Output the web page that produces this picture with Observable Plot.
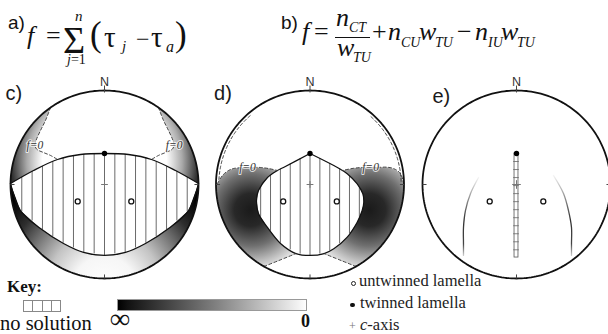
<!DOCTYPE html>
<html><head><meta charset="utf-8">
<script src="https://cdn.jsdelivr.net/npm/d3@7"></script>
<script src="https://cdn.jsdelivr.net/npm/@observablehq/plot@0.6"></script>
<style>
html,body{margin:0;padding:0;background:#fff;}
#fig{position:relative;width:608px;height:334px;overflow:hidden;background:#fff;}
#chart{position:absolute;left:0;top:68px;}
.t{position:absolute;white-space:nowrap;color:#111;}
.serif{font-family:"Liberation Serif","Times New Roman",serif;}
.sans{font-family:"Liberation Sans",Arial,sans-serif;}
.i{font-style:italic;}
.b{font-weight:bold;}
.lim{position:absolute;white-space:nowrap;line-height:0.8;}
</style></head><body><div id="fig"><div id="chart"></div></div>
<script>
// ---------------- data (net coordinates: unit circle, +v = north) ----------------
const panels = ["c", "d", "e"];
const compass = [{dir: "N", angle: 90}, {dir: "E", angle: 0}, {dir: "S", angle: 270}, {dir: "W", angle: 180}];
const cAxis = [[0, 0]];
const twinnedLamella = [[0, 0.33]];
const untwinnedLamellae = [[-0.285, -0.18], [0.285, -0.18]];

// c) no-solution lens and f=0 contours
const cLensUpper = [[-1, 0.01], [-0.755, 0.149], [-0.5, 0.266], [-0.255, 0.319], [0, 0.33], [0.255, 0.319], [0.5, 0.266], [0.755, 0.149], [1, 0.01]];
const cLensLower = [[-1, 0.01], [-0.894, -0.277], [-0.681, -0.468], [-0.436, -0.628], [-0.223, -0.723], [0, -0.755], [0.223, -0.723], [0.436, -0.628], [0.681, -0.468], [0.894, -0.277], [1, 0.01]];
const cZeroLeft = [[-0.574, 0.819], [-0.628, 0.681], [-0.681, 0.574], [-0.728, 0.47], [-0.74, 0.42], [-0.72, 0.375], [-0.649, 0.34], [-0.574, 0.309], [-0.5, 0.266]];
const cZeroRight = [[0.574, 0.819], [0.628, 0.681], [0.681, 0.574], [0.728, 0.47], [0.74, 0.42], [0.72, 0.375], [0.649, 0.34], [0.574, 0.309], [0.5, 0.266]];

// d) no-solution region and f=0 contours
const dRegion = [
  [0, 0.33], [0.253, 0.202], [0.345, 0.149], [0.396, 0.114], [0.502, 0.007], [0.562, -0.099], [0.572, -0.188],
  [0.555, -0.277], [0.502, -0.401], [0.396, -0.56], [0.253, -0.684], [0.15, -0.735], [0, -0.755],
  [-0.15, -0.735], [-0.314, -0.627], [-0.452, -0.457], [-0.548, -0.309], [-0.569, -0.17], [-0.548, -0.064],
  [-0.452, 0.074], [-0.346, 0.149], [-0.282, 0.181], [0, 0.33]
];
const dZeroLeft = [[-0.984, 0.011], [-0.931, 0.096], [-0.867, 0.149], [-0.814, 0.17], [-0.74, 0.178], [-0.665, 0.181], [-0.59, 0.182], [-0.527, 0.181], [-0.441, 0.17], [-0.346, 0.149]];
const dZeroRight = [[0.998, 0.007], [0.963, 0.114], [0.9, 0.165], [0.821, 0.184], [0.74, 0.183], [0.644, 0.181], [0.55, 0.181], [0.46, 0.172], [0.345, 0.149]];
const dBottomLeft = [[-0.49, -0.872], [-0.332, -0.809], [-0.15, -0.735]];
const dBottomRight = [[0.49, -0.872], [0.332, -0.809], [0.15, -0.735]];
const dRimArcs = [[131, 178], [2, 49]];
const dRimRadius = 0.97;

// e) degenerate no-solution strip and f=0 traces
const eStrip = [[0, 0.33], [0, -0.777]];
const eArcLeft = [[-0.404, 0.074], [-0.489, -0.096], [-0.543, -0.277], [-0.564, -0.457], [-0.564, -0.628], [-0.564, -0.755]];
const eArcRight = [[0.394, 0.096], [0.5, -0.096], [0.553, -0.277], [0.585, -0.457], [0.585, -0.628], [0.585, -0.755]];

// ---------------- layout ----------------
const W = 608, H = 216, unitPx = 94;
const centerPx = {c: 104, d: 309.5, e: 516};
const centerYPx = 116;
const off = Object.fromEntries(panels.map(p => [p, (centerPx[p] - centerPx.c) / unitPx]));
const xDomain = [(0 - centerPx.c) / unitPx, (W - centerPx.c) / unitPx];
const yDomain = [(centerYPx - H) / unitPx, centerYPx / unitPx];
const panelLabel = {c: [-1.053, 0.904], d: [-1.021, 0.904], e: [-0.894, 0.872]};

// ---------------- geometry helpers ----------------
const rad = Math.PI / 180;
const ang = p => Math.atan2(p[1], p[0]) / rad;
function arc(a0, a1, r = 1) {
  const n = Math.max(2, Math.ceil(Math.abs(a1 - a0) / 1.5));
  return d3.range(n + 1).map(i => { const a = (a0 + (a1 - a0) * i / n) * rad; return [r * Math.cos(a), r * Math.sin(a)]; });
}
const near = (a, b) => Math.abs(a[0] - b[0]) < 1e-9 && Math.abs(a[1] - b[1]) < 1e-9;
function pathBetween(loop, a, b) {
  const i = loop.findIndex(p => near(p, a)), j = loop.findIndex(p => near(p, b));
  return i <= j ? loop.slice(i, j + 1) : loop.slice(j, i + 1).reverse();
}
function span(poly, u) {
  const vs = [];
  for (let i = 0; i < poly.length - 1; i++) {
    const [x0, y0] = poly[i], [x1, y1] = poly[i + 1];
    if (x0 === x1) continue;
    if ((u - x0) * (u - x1) <= 0) { const t = (u - x0) / (x1 - x0); vs.push(y0 + t * (y1 - y0)); }
  }
  return vs.length >= 2 ? [d3.min(vs), d3.max(vs)] : null;
}
function hatch(poly, step, panel) {
  const [lo, hi] = d3.extent(poly, p => p[0]);
  const out = [];
  for (let k = Math.ceil(lo / step); k * step <= hi; k++) {
    const u = k * step, s = span(poly, u);
    if (s && s[1] - s[0] > 0.05) out.push({x: off[panel] + u, v1: s[0], v2: s[1]});
  }
  return out;
}
const at = (panel) => ({x: d => off[panel] + d[0], y: d => d[1]});

// ---------------- derived shapes ----------------
const ring = arc(0, 360);
const cLens = [...cLensUpper, ...cLensLower.slice().reverse()];
const cCornerL = [...arc(ang(cZeroLeft[0]), ang(cLensUpper[0])), ...cLensUpper.slice(0, 3), ...cZeroLeft.slice().reverse()];
const cCornerR = [...arc(ang(cZeroRight[0]), ang(cLensUpper.at(-1))), ...cLensUpper.slice(-3).reverse(), ...cZeroRight.slice().reverse()];
const cBand = [...arc(ang(cLensLower[0]), 360 + ang(cLensLower.at(-1))), ...cLensLower.slice().reverse()];
const dCrescL = [...arc(ang(dZeroLeft[0]), 360 + ang(dBottomLeft[0])), ...dBottomLeft, ...pathBetween(dRegion, dBottomLeft.at(-1), dZeroLeft.at(-1)), ...dZeroLeft.slice().reverse()];
const dCrescR = [...arc(ang(dZeroRight[0]), ang(dBottomRight[0])), ...dBottomRight, ...pathBetween(dRegion, dBottomRight.at(-1), dZeroRight.at(-1)), ...dZeroRight.slice().reverse()];
const hatchC = hatch(cLens, 0.11, "c");
const hatchD = hatch(dRegion, 0.105, "d");
const eTickStep = 0.0854;
const eTicks = d3.range(1, 40).map(k => eStrip[0][1] - k * eTickStep).filter(v => v > eStrip[1][1] + eTickStep / 2);

const perPanel = (pts) => panels.flatMap(p => pts.map(pt => ({p, u: off[p] + pt[0], v: pt[1]})));
const ticks = panels.flatMap(p => compass.map(c => {
  const [r0, r1] = c.dir === "N" ? [0.979, 1.053] : [0.957, 1.0];
  const a = c.angle * rad;
  return {x1: off[p] + r0 * Math.cos(a), y1: r0 * Math.sin(a), x2: off[p] + r1 * Math.cos(a), y2: r1 * Math.sin(a)};
}));
const plusArm = {c: 0.036, d: 0.036, e: 0.046};
const plusLinks = panels.flatMap(p => cAxis.flatMap(([u, v]) => [
  {x1: off[p] + u - plusArm[p], y1: v, x2: off[p] + u + plusArm[p], y2: v},
  {x1: off[p] + u, y1: v - plusArm[p], x2: off[p] + u, y2: v + plusArm[p]}
]));
const zeroLabels = [
  {p: "c", pt: cZeroLeft[4]}, {p: "c", pt: cZeroRight[4]},
  {p: "d", pt: dZeroLeft[5]}, {p: "d", pt: dZeroRight[5]}
];

// gradient definitions (computed in screen space through the plot's scales)
function defsMark(index, scales) {
  const sx = scales && scales.x ? scales.x : (u => (u - xDomain[0]) / (xDomain[1] - xDomain[0]) * W);
  const sy = scales && scales.y ? scales.y : (v => H - (v - yDomain[0]) / (yDomain[1] - yDomain[0]) * H);
  const k = sx(1) - sx(0);
  const defs = d3.create("svg:defs");
  function radial(id, cu, cv, r, stops) {
    const g = defs.append("radialGradient").attr("id", id).attr("gradientUnits", "userSpaceOnUse")
      .attr("cx", sx(cu)).attr("cy", sy(cv)).attr("r", r * k);
    for (const [o, c] of stops) g.append("stop").attr("offset", o).attr("stop-color", c);
  }
  radial("gCorner", off.c, 0.25, 1.1, [[0, "#fff"], [0.6, "#fff"], [0.75, "#aaa"], [0.9, "#333"], [1, "#000"]]);
  radial("gBand", off.c, -1.1, 1.35, [[0, "#fff"], [0.25, "#f6f6f6"], [0.45, "#c4c4c4"], [0.65, "#707070"], [0.8, "#2e2e2e"], [1, "#000"]]);
  const dStops = [[0, "#1a1a1a"], [0.25, "#282828"], [0.55, "#707070"], [0.8, "#c2c2c2"], [1, "#fff"]];
  radial("gDL", off.d - 0.63, -0.27, 0.7, dStops);
  radial("gDR", off.d + 0.63, -0.27, 0.7, dStops);
  const lg = defs.append("linearGradient").attr("id", "gArc").attr("x1", 0).attr("y1", 0).attr("x2", 0).attr("y2", 1);
  for (const [o, c] of [[0, "#f4f4f4"], [0.25, "#999"], [0.55, "#333"], [0.85, "#444"], [1, "#ccc"]]) lg.append("stop").attr("offset", o).attr("stop-color", c);
  return defs.node();
}

const dashStyle = {stroke: "#333", strokeWidth: 0.9, strokeDasharray: "3,2.4", curve: "catmull-rom"};

const chart = Plot.plot({
  width: W, height: H, margin: 0,
  x: {domain: xDomain, axis: null},
  y: {domain: yDomain, axis: null},
  style: {background: "transparent", fontFamily: "Liberation Sans, Arial, sans-serif", overflow: "visible"},
  marks: [
    defsMark,
    // graded f regions
    Plot.line(cCornerL, {...at("c"), fill: "url(#gCorner)", stroke: "none"}),
    Plot.line(cCornerR, {...at("c"), fill: "url(#gCorner)", stroke: "none"}),
    Plot.line(cBand, {...at("c"), fill: "url(#gBand)", stroke: "none"}),
    Plot.line(dCrescL, {...at("d"), fill: "url(#gDL)", stroke: "none"}),
    Plot.line(dCrescR, {...at("d"), fill: "url(#gDR)", stroke: "none"}),
    // no-solution hatching
    Plot.ruleX(hatchC, {x: "x", y1: "v1", y2: "v2", stroke: "#5a5a5a", strokeWidth: 0.9}),
    Plot.ruleX(hatchD, {x: "x", y1: "v1", y2: "v2", stroke: "#5a5a5a", strokeWidth: 0.9}),
    Plot.line(cLensUpper, {...at("c"), stroke: "#111", strokeWidth: 1.3, curve: "catmull-rom"}),
    Plot.line(cLensLower, {...at("c"), stroke: "#111", strokeWidth: 1.3, curve: "catmull-rom"}),
    Plot.line(dRegion, {...at("d"), stroke: "#111", strokeWidth: 1.2, curve: "catmull-rom"}),
    // f = 0 contours
    Plot.line(cZeroLeft, {...at("c"), ...dashStyle}),
    Plot.line(cZeroRight, {...at("c"), ...dashStyle}),
    Plot.line(dZeroLeft, {...at("d"), ...dashStyle}),
    Plot.line(dZeroRight, {...at("d"), ...dashStyle}),
    Plot.line(dBottomLeft, {...at("d"), ...dashStyle}),
    Plot.line(dBottomRight, {...at("d"), ...dashStyle}),
    ...dRimArcs.map(([a0, a1]) => Plot.line(arc(a0, a1, dRimRadius), {...at("d"), ...dashStyle})),
    // e) strip and traces
    Plot.rect(eStrip.slice(0, 1), {x1: off.e - 0.021, x2: off.e + 0.021, y1: eStrip[1][1], y2: eStrip[0][1], fill: "#fff", stroke: "#555", strokeWidth: 0.8}),
    Plot.ruleY(eTicks, {y: d => d, x1: off.e - 0.03, x2: off.e + 0.03, stroke: "#666", strokeWidth: 0.8}),
    Plot.line(eArcLeft, {...at("e"), stroke: "url(#gArc)", strokeWidth: 1.3, curve: "catmull-rom"}),
    Plot.line(eArcRight, {...at("e"), stroke: "url(#gArc)", strokeWidth: 1.3, curve: "catmull-rom"}),
    // primitive circles and compass ticks
    ...panels.map(p => Plot.line(ring, {...at(p), stroke: "#111", strokeWidth: 1.8})),
    Plot.link(ticks, {x1: "x1", y1: "y1", x2: "x2", y2: "y2", stroke: "#444", strokeWidth: 1}),
    // lamellae and c-axis
    Plot.link(plusLinks, {x1: "x1", y1: "y1", x2: "x2", y2: "y2", stroke: "#777", strokeWidth: 1}),
    Plot.dot(perPanel(untwinnedLamellae), {x: "u", y: "v", r: 2.5, fill: "#fff", stroke: "#111", strokeWidth: 1.3}),
    Plot.dot(perPanel(twinnedLamella), {x: "u", y: "v", r: 2.7, fill: "#000", stroke: "none"}),
    // labels
    Plot.text(zeroLabels, {x: d => off[d.p] + d.pt[0], y: d => d.pt[1], text: () => "f=0", fontFamily: "Liberation Serif, serif", fontStyle: "italic", fontSize: 11.5, fill: "#333", stroke: "#fff", strokeWidth: 2, strokeOpacity: 0.75, paintOrder: "stroke"}),
    Plot.text(panels, {x: p => off[p], y: 1.048, text: () => "N", lineAnchor: "bottom", fontSize: 12.5, fill: "#333"}),
    Plot.text(panels, {x: p => off[p] + panelLabel[p][0], y: p => panelLabel[p][1], text: p => p + ")", textAnchor: "start", lineAnchor: "bottom", fontSize: 20, fill: "#1a1a1a"})
  ]
});
document.getElementById("chart").appendChild(chart);

// ---------------- formulas and key (HTML text) ----------------
const fig = document.getElementById("fig");
// place text so that its baseline lands at `baseline`; lh = line-height in em
function put(html, x, baseline, size, cls, extra, lh = 1) {
  const el = document.createElement("div");
  el.className = "t " + cls;
  el.innerHTML = html;
  const mid = cls.includes("sans") ? 0.3465 : 0.3375;
  el.style.left = x + "px";
  el.style.lineHeight = lh;
  el.style.top = (baseline - (lh / 2 + mid) * size) + "px";
  el.style.fontSize = size + "px";
  if (extra) Object.assign(el.style, extra);
  fig.appendChild(el);
  return el;
}
function box(x, y, w, h, style) {
  const el = document.createElement("div");
  Object.assign(el.style, {position: "absolute", left: x + "px", top: y + "px", width: w + "px", height: h + "px", boxSizing: "border-box"}, style);
  fig.appendChild(el);
  return el;
}
// a)
put("a)", 8, 29, 19, "sans");
put("f", 27, 45, 26, "serif i");
put("=", 46, 45, 26, "serif");
// summation sign with its limits as one typeset unit
{
  const sigmaX = 63, sigmaBase = 53, sigmaSize = 38, lh = 0.7;
  const top = sigmaBase - (lh / 2 + 0.3375) * sigmaSize;
  const el = put("Σ", sigmaX, sigmaBase, sigmaSize, "serif", null, lh);
  const lim = (html, x, baseline, size) => {
    const s = document.createElement("span");
    s.className = "lim";
    s.innerHTML = html;
    s.style.fontSize = size + "px";
    s.style.left = (x - sigmaX) + "px";
    s.style.top = (baseline - (0.4 + 0.3375) * size - top) + "px";
    el.appendChild(s);
  };
  lim("<i>n</i>", 75, 21, 15);
  lim("<i>j</i>=1", 67, 64, 14);
}
put("(", 90, 47, 35, "serif", null, 0.9);
put("τ", 104, 47, 29, "serif");
put("j", 122, 51, 15, "serif i", null, 0.8);
put("−", 136, 47, 24, "serif");
put("τ", 151, 47, 29, "serif");
put("a", 166, 53, 16, "serif i", null, 0.8);
put(")", 175, 47, 35, "serif", null, 0.9);
// b)
put("b)", 281, 29, 19, "sans");
put("f", 302, 41, 26, "serif i");
put("=", 314, 41, 26, "serif");
put("n", 336, 27, 26, "serif i", null, 0.8);
put("CT", 349, 32, 14, "serif i", null, 0.8);
box(335, 36.5, 35, 1.3, {background: "#111"});
put("w", 337, 57, 26, "serif i", null, 0.8);
put("TU", 353, 62, 14, "serif i", null, 0.8);
put("+", 372, 41, 26, "serif");
put("n", 388, 41, 26, "serif i", null, 0.8);
put("CU", 401, 47, 14, "serif i", null, 0.8);
put("w", 419, 41, 26, "serif i", null, 0.8);
put("TU", 435, 47, 14, "serif i", null, 0.8);
put("−", 457, 41, 26, "serif");
put("n", 475, 41, 26, "serif i", null, 0.8);
put("IU", 488, 47, 14, "serif i", null, 0.8);
put("w", 501, 41, 26, "serif i", null, 0.8);
put("TU", 517, 47, 14, "serif i", null, 0.8);
// key
put("Key:", 7, 292, 17, "serif b");
box(23, 300, 38, 12, {border: "1px solid #888", background: "repeating-linear-gradient(to right, #fff 0, #fff 8.5px, #888 8.5px, #888 9.5px)"});
put("no solution", 0, 330, 20.5, "serif");
box(117, 299, 190, 12, {border: "1px solid #999", background: "linear-gradient(to right, #000 0%, #111 5%, #808080 52%, #f2f2f2 96%, #fff 100%)"});
put("∞", 110, 328, 28, "serif b");
put("0", 301, 327, 18, "serif b");
box(350.5, 280.5, 5, 5, {border: "1.2px solid #222", borderRadius: "50%", background: "#fff"});
put("untwinned lamella", 359, 287, 16.5, "serif", {color: "#222"});
box(350.3, 302.8, 4.4, 4.4, {borderRadius: "50%", background: "#111"});
put("twinned lamella", 360, 309, 16.5, "serif", {color: "#222"});
put("+", 349, 330, 12, "serif", {color: "#777"});
put("<i>c</i>-axis", 360, 331, 16.5, "serif", {color: "#222"});
</script></body></html>
